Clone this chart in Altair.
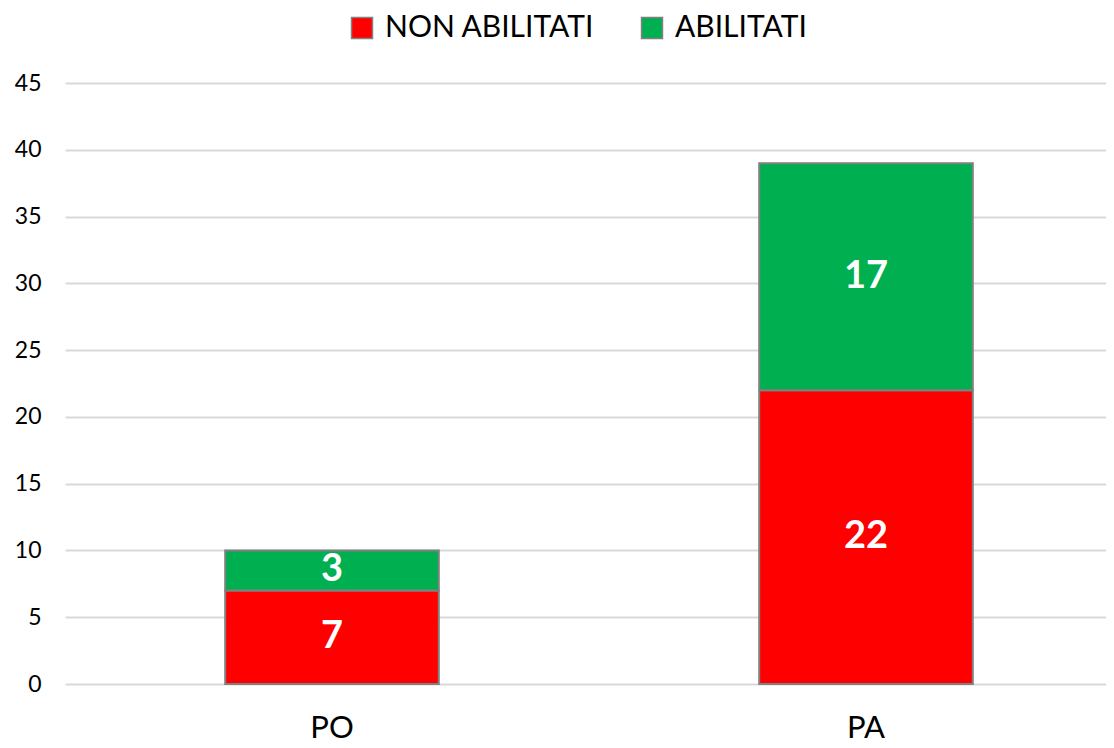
import altair as alt
import pandas as pd

categories = ["PO", "PA"]
series = ["NON ABILITATI", "ABILITATI"]
non_abilitati = [7, 22]
abilitati = [3, 17]
colors = ["#ff0000", "#00b050"]
y_ticks = [0, 5, 10, 15, 20, 25, 30, 35, 40, 45]

rows = []
for i, c in enumerate(categories):
    rows.append({"cat": c, "serie": series[0], "value": non_abilitati[i], "ord": 0})
    rows.append({"cat": c, "serie": series[1], "value": abilitati[i], "ord": 1})
df = pd.DataFrame(rows)

FONT = "Lato"

base = alt.Chart(df).transform_stack(
    stack="value", groupby=["cat"], as_=["y0", "y1"], sort=[alt.SortField("ord")]
).transform_calculate(mid="(datum.y0 + datum.y1) / 2")

x = alt.X("cat:N", sort=categories, title=None,
          scale=alt.Scale(range=[0, 1068], paddingInner=0.6, paddingOuter=0.3),
          axis=alt.Axis(labelAngle=0, labelFontSize=31, labelFont=FONT, labelColor="#000000",
                        labelPadding=29, ticks=False, domain=False, grid=False))

bars = base.mark_bar(stroke="#808080", strokeWidth=2).encode(
    x=x,
    y=alt.Y("y0:Q", title=None,
            scale=alt.Scale(domain=[0, 45], nice=False),
            axis=alt.Axis(values=y_ticks, labelFontSize=23, labelFont=FONT, labelColor="#000000",
                          labelPadding=24, ticks=False, domain=False,
                          gridColor="#d9d9d9", gridWidth=2)),
    y2="y1:Q",
    color=alt.Color("serie:N", sort=series,
                    scale=alt.Scale(domain=series, range=colors),
                    legend=alt.Legend(title=None, orient="none", direction="horizontal",
                                      legendX=282, legendY=-70,
                                      symbolType="square", symbolSize=440,
                                      symbolStrokeColor="#808080", symbolStrokeWidth=1.5,
                                      labelFontSize=30, labelFont=FONT, labelColor="#000000",
                                      labelLimit=500, padding=0,
                                      columnPadding=42, labelOffset=8)),
    order=alt.Order("ord:Q"),
)

labels = base.mark_text(color="white", fontSize=38, fontWeight="bold", font=FONT,
                        baseline="middle").encode(
    x=alt.X("cat:N", sort=categories),
    y=alt.Y("mid:Q"),
    text="value:Q",
)

chart = (bars + labels).properties(
    width=1041, height=601,
    padding={"left": 57, "top": 75, "right": 0, "bottom": 62},
    autosize=alt.AutoSizeParams(type="none"),
).configure_view(stroke=None).configure_axis(gridColor="#d9d9d9")

chart.save("out.html", embed_options={"renderer": "svg", "actions": False})
